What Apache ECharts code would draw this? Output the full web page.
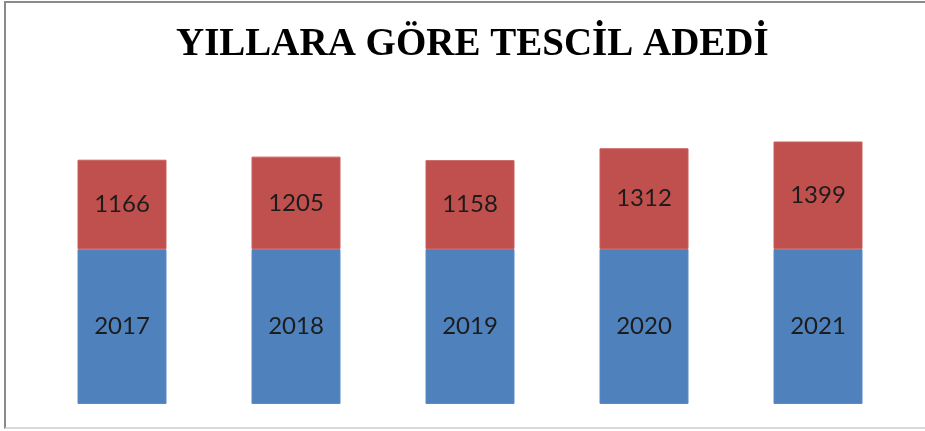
<!DOCTYPE html>
<html>
<head>
<meta charset="utf-8">
<script src="https://cdn.jsdelivr.net/npm/echarts@6/dist/echarts.min.js"></script>
<style>
  html, body { margin: 0; padding: 0; background: #fff; }
  #chart { width: 925px; height: 431px; }
  #frame {
    position: absolute; left: 4px; top: 1px; width: 921px; height: 428px;
    border-left: 2px solid #8a8a8a; border-top: 2px solid #8a8a8a;
    border-bottom: 2px solid #d9d9d9; box-sizing: border-box; pointer-events: none;
  }
</style>
</head>
<body>
<div id="chart"></div>
<div id="frame"></div>
<script>
  // data
  const years = ["2017", "2018", "2019", "2020", "2021"];
  const yearValues = [2017, 2018, 2019, 2020, 2021];
  const registrations = [1166, 1205, 1158, 1312, 1399];

  let chart = echarts.init(document.getElementById("chart"));

  let labelStyle = {
    show: true,
    position: "inside",
    fontFamily: "Lato",
    fontSize: 24,
    color: "#1c1c1c"
  };

  let option = {
    animation: false,
    title: {
      text: "YILLARA GÖRE TESCİL ADEDİ",
      left: 171,
      top: 20,
      textStyle: {
        fontFamily: "Liberation Serif",
        fontWeight: "bold",
        fontSize: 39,
        color: "#000"
      }
    },
    grid: { left: 35, right: 20, top: 97, bottom: 27 },
    xAxis: {
      type: "category",
      data: years,
      show: false
    },
    yAxis: {
      type: "value",
      min: 0,
      max: 4000,
      show: false
    },
    series: [
      {
        type: "bar",
        stack: "total",
        data: yearValues,
        barWidth: 89,
        itemStyle: { color: "#4f81bd", borderColor: "#5b8ac4", borderWidth: 1 },
        label: labelStyle
      },
      {
        type: "bar",
        stack: "total",
        data: registrations,
        barWidth: 89,
        itemStyle: { color: "#c0504d", borderColor: "#c85d5a", borderWidth: 1 },
        label: labelStyle
      }
    ]
  };

  chart.setOption(option);
</script>
</body>
</html>
